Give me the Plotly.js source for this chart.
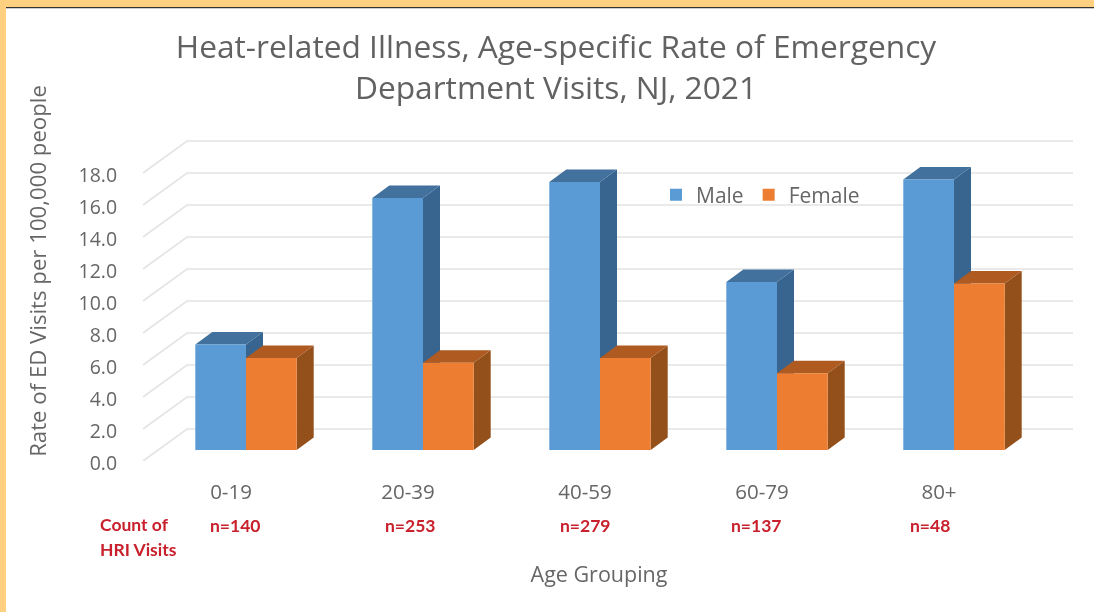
<!DOCTYPE html>
<html>
<head>
<meta charset="utf-8">
<script src="https://cdn.plot.ly/plotly-3.0.1.min.js"></script>
<style>html,body{margin:0;padding:0;background:#fff;overflow:hidden}#chart{width:1094px;height:612px;filter:blur(0.55px)}</style>
</head>
<body>
<div id="chart"></div>
<script>
const ageGroups = ["0-19", "20-39", "40-59", "60-79", "80+"];
const maleRates = [6.6, 15.75, 16.75, 10.5, 16.9];
const femaleRates = [5.75, 5.45, 5.75, 4.8, 10.4];
const countLabels = ["n=140", "n=253", "n=279", "n=137", "n=48"];
const yTicks = [0, 2, 4, 6, 8, 10, 12, 14, 16, 18];

const W = 1094, H = 612;
const PX_PER_CAT = 177, PX_PER_UNIT = 16, X0_PX = 231, Y0_PX = 461;
const PLOT_L = 125, PLOT_R = 1073, PLOT_T = 81;
const xRange = [(PLOT_L - X0_PX) / PX_PER_CAT, (PLOT_R - X0_PX) / PX_PER_CAT];
const yRange = [0, (Y0_PX - PLOT_T) / PX_PER_UNIT];
const wallDX = 44 / PX_PER_CAT, wallDY = 32 / PX_PER_UNIT;
const barW = 50.7 / PX_PER_CAT, barShift = 15 / PX_PER_CAT, barBase = 11 / PX_PER_UNIT;
const depthDX = 17 / PX_PER_CAT, depthDY = 12.5 / PX_PER_UNIT;
const px = v => v / W, py = v => 1 - v / H;

function gridTrace() {
  const x = [], y = [];
  yTicks.forEach(t => {
    x.push(-88 / PX_PER_CAT, -88 / PX_PER_CAT + wallDX, xRange[1], null);
    y.push(t, t + wallDY, t + wallDY, null);
  });
  return {type: "scatter", mode: "lines", x, y, cliponaxis: false, showlegend: false, hoverinfo: "skip",
          line: {color: "#E4E4E4", width: 1.7}};
}
function face(values, xOff, kind, color) {
  const x = [], y = [];
  values.forEach((v, i) => {
    const l = i + barShift + xOff, r = l + barW, t = barBase + v;
    if (kind === "top") {
      x.push(l, r, r + depthDX, l + depthDX, l, null);
      y.push(t, t, t + depthDY, t + depthDY, t, null);
    } else {
      x.push(r, r + depthDX, r + depthDX, r, r, null);
      y.push(t, t + depthDY, barBase + depthDY, barBase, t, null);
    }
  });
  return {type: "scatter", mode: "lines", x, y, fill: "toself", fillcolor: color, cliponaxis: false,
          line: {width: 0, color: color}, showlegend: false, hoverinfo: "skip"};
}
function bars(name, values, xOff, color) {
  return {type: "bar", name, xaxis: "x2", yaxis: "y2",
          x: values.map((_, i) => i + barShift + xOff + barW / 2), y: values,
          base: values.map(() => barBase), width: barW,
          marker: {color, line: {width: 0}}};
}
const traces = [
  gridTrace(),
  face(maleRates, -barW, "side", "#38658F"),
  face(maleRates, -barW, "top", "#41719C"),
  face(femaleRates, 0, "side", "#94501B"),
  face(femaleRates, 0, "top", "#AE5A21"),
  bars("Male", maleRates, -barW, "#5B9BD5"),
  bars("Female", femaleRates, 0, "#ED7D31")
];

const textFont = '"Open Sans", sans-serif';
const redFont = {family: 'Lato, sans-serif', size: 17.5, color: "#C8202C", weight: 700};
const countX = [235.5, 410, 585, 756, 930];
const annotations = countLabels.map((t, i) => ({
  text: "<b>" + t + "</b>", xref: "paper", yref: "paper", x: px(countX[i]), y: py(525),
  xanchor: "center", yanchor: "middle", showarrow: false, font: redFont
}));
annotations.push(
  {text: "<b>Count of</b>", xref: "paper", yref: "paper", x: px(98), y: py(524), xanchor: "left", yanchor: "middle", showarrow: false, font: redFont},
  {text: "<b>HRI Visits</b>", xref: "paper", yref: "paper", x: px(98), y: py(549), xanchor: "left", yanchor: "middle", showarrow: false, font: redFont}
);

const layout = {
  width: W, height: H,
  margin: {l: 0, r: 0, t: 0, b: 0, pad: 0},
  paper_bgcolor: "#FFFFFF", plot_bgcolor: "rgba(0,0,0,0)",
  font: {family: textFont, color: "#666666"},
  barmode: "overlay",
  title: {text: "Heat-related Illness, Age-specific Rate of Emergency<br>Department Visits, NJ, 2021",
          x: px(556), xref: "paper", xanchor: "center", y: py(57.5), yref: "paper", yanchor: "middle",
          font: {family: textFont, size: 31.7, color: "#626262"}},
  xaxis: {domain: [px(PLOT_L), px(PLOT_R)], range: xRange, type: "linear", tickmode: "array",
          tickvals: ageGroups.map((_, i) => i), ticktext: ageGroups,
          showgrid: false, zeroline: false, showline: false, ticks: "outside", ticklen: 12, tickcolor: "rgba(0,0,0,0)",
          tickfont: {family: textFont, size: 20.5, color: "#666666"},
          title: {text: "Age Grouping", standoff: 63, font: {family: textFont, size: 21.5, color: "#666666"}}},
  yaxis: {domain: [py(Y0_PX), py(PLOT_T)], range: yRange, tickmode: "array", tickvals: yTicks,
          ticktext: yTicks.map(t => t.toFixed(1)), ticklabelshift: 2,
          showgrid: false, zeroline: false, showline: false, ticks: "outside", ticklen: 3, tickcolor: "rgba(0,0,0,0)",
          tickfont: {family: textFont, size: 19.5, color: "#666666"},
          title: {text: "Rate of ED Visits per 100,000 people", standoff: 25, font: {family: textFont, size: 22.2, color: "#666666"}}},
  xaxis2: {overlaying: "x", range: xRange, visible: false, anchor: "y2"},
  yaxis2: {overlaying: "y", range: yRange, visible: false, anchor: "x2"},
  legend: {orientation: "h", x: px(656), y: py(195), xanchor: "left", yanchor: "middle",
           bgcolor: "rgba(0,0,0,0)",
           font: {family: textFont, size: 21, color: "#666666"}},
  shapes: [
    {type: "rect", xref: "paper", yref: "paper", x0: 0, x1: 1, y0: py(7), y1: 1, fillcolor: "#FFD07F", line: {width: 0}, layer: "below"},
    {type: "rect", xref: "paper", yref: "paper", x0: 0, x1: 1, y0: py(8.2), y1: py(7), fillcolor: "#333333", line: {width: 0}, layer: "below"},
    {type: "rect", xref: "paper", yref: "paper", x0: 0, x1: px(6), y0: 0, y1: 1, fillcolor: "#FFD07F", line: {width: 0}, layer: "below"}
  ],
  annotations,
  hovermode: false, showlegend: true
};
Plotly.newPlot("chart", traces, layout, {displayModeBar: false, staticPlot: true});
</script>
</body>
</html>
